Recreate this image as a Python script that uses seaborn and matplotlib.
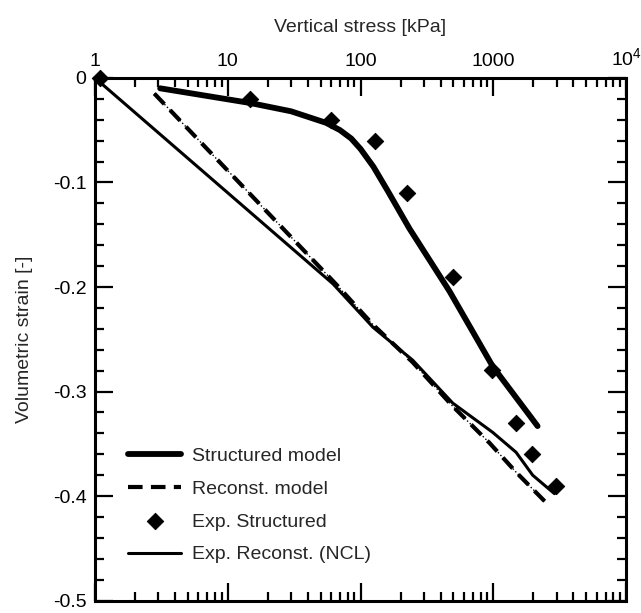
import numpy as np
import pandas as pd
import matplotlib
matplotlib.use("Agg")
import matplotlib.pyplot as plt
import matplotlib.ticker as mticker
import seaborn as sns

# values
struct_stress = [3.1, 14.7, 30, 55, 70, 85, 100, 125, 160, 233, 467, 989, 2150]
struct_strain = [-0.010, -0.024, -0.032, -0.043, -0.050, -0.058, -0.068, -0.085, -0.108,
                 -0.144, -0.204, -0.276, -0.333]

recon_stress = [2.8, 65, 124, 247, 494, 933, 1480, 2460]
recon_strain = [-0.015, -0.197, -0.236, -0.272, -0.314, -0.349, -0.377, -0.4055]

ncl_stress = [1.0, 62, 124, 247, 494, 988, 1480, 1977, 2880]
ncl_strain = [0.0, -0.197, -0.2385, -0.270, -0.311, -0.339, -0.358, -0.380, -0.3976]

exp_stress = [1.09, 14.8, 60, 128, 225, 494, 977, 1480, 1955, 2960]
exp_strain = [0.0, -0.020, -0.040, -0.060, -0.110, -0.190, -0.279, -0.330, -0.360, -0.390]

sns.set_style("ticks")
plt.rcParams['font.family'] = ['Liberation Sans', 'DejaVu Sans']
plt.rcParams['mathtext.fontset'] = 'custom'
plt.rcParams['mathtext.rm'] = 'Liberation Sans'

fig = plt.figure(figsize=(6.41, 6.13), dpi=100)
ax = fig.add_axes([0.148, 0.02, 0.829, 0.853])

sns.lineplot(x=struct_stress, y=struct_strain, ax=ax, color="black", lw=4.2,
             sort=False, estimator=None, label="Structured model")
sns.lineplot(x=recon_stress, y=recon_strain, ax=ax, color="black", lw=3,
             linestyle=(0, (3.5, 2)), sort=False, estimator=None, label="Reconst. model")
sns.lineplot(x=recon_stress, y=recon_strain, ax=ax, color="black", lw=1,
             linestyle=":", sort=False, estimator=None, legend=False)
sns.scatterplot(x=exp_stress, y=exp_strain, ax=ax, color="black", marker="D",
                s=70, edgecolor="black", zorder=5, label="Exp. Structured")
sns.lineplot(x=ncl_stress, y=ncl_strain, ax=ax, color="black", lw=2.2,
             sort=False, estimator=None, label="Exp. Reconst. (NCL)")

ax.set_xscale("log")
ax.set_xlim(1, 1e4)
ax.set_ylim(-0.5, 0)
for ln in ax.lines + ax.collections:
    ln.set_clip_on(False)

ax.xaxis.set_major_locator(mticker.FixedLocator([1, 10, 100, 1000, 10000]))
ax.xaxis.set_major_formatter(mticker.FixedFormatter(['1', '10', '100', '1000', r'$\mathregular{10^4}$']))
ax.xaxis.set_minor_locator(mticker.LogLocator(base=10, subs=np.arange(2, 10)))
ax.xaxis.set_minor_formatter(mticker.NullFormatter())
ax.yaxis.set_major_locator(mticker.MultipleLocator(0.1))
ax.yaxis.set_minor_locator(mticker.MultipleLocator(0.02))
ax.yaxis.set_major_formatter(mticker.FuncFormatter(lambda v, p: "0" if abs(v) < 1e-9 else f"{v:.1f}"))

ax.tick_params(which="both", direction="in", top=True, bottom=True, left=True, right=True,
               labeltop=True, labelbottom=False, width=1.6, labelsize=14, colors="black")
ax.tick_params(which="major", length=13, pad=6)
ax.tick_params(which="minor", length=6.5)
ax.xaxis.set_label_position("top")
ax.set_xlabel("Vertical stress [kPa]", fontsize=14, labelpad=11)
ax.set_ylabel("Volumetric strain [-]", fontsize=14, labelpad=14)
for sp in ax.spines.values():
    sp.set_linewidth(2.2)
    sp.set_color("black")

ax.legend(loc="lower left", bbox_to_anchor=(0.03, 0.038), frameon=False, fontsize=14,
          handlelength=2.7, labelspacing=0.78, handletextpad=0.6)

fig.savefig("out.png", dpi=100)
